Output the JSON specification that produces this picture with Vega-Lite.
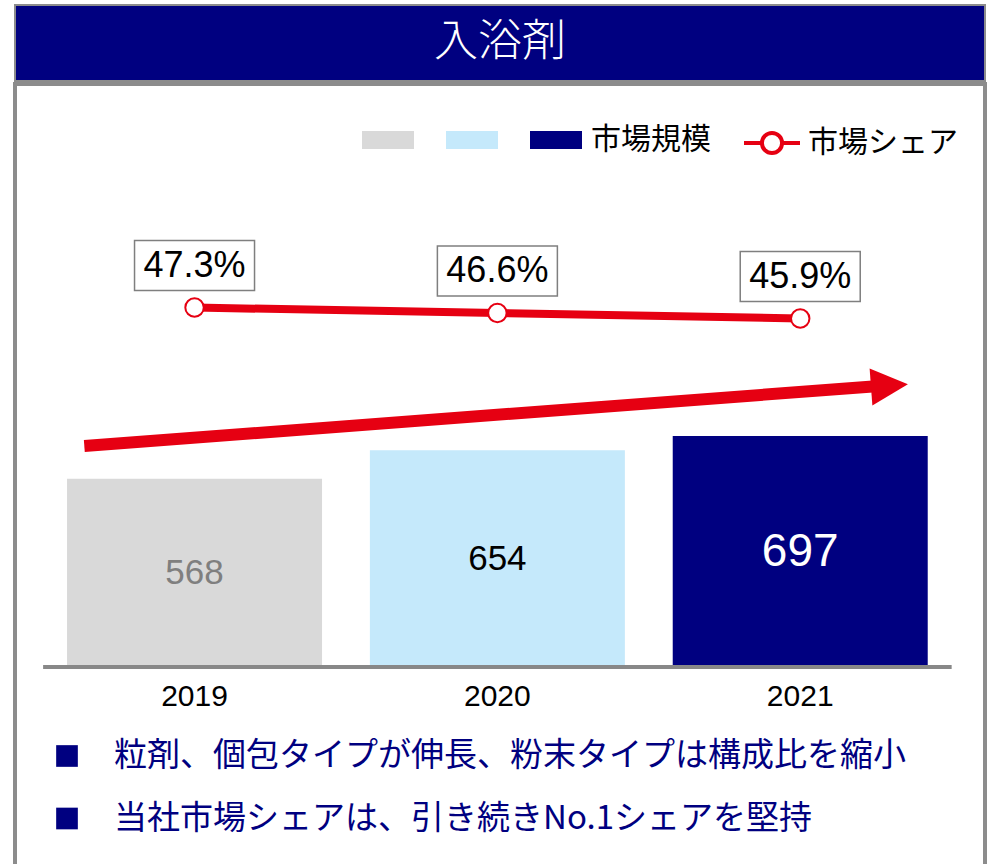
{
  "$schema": "https://vega.github.io/schema/vega-lite/v6.json",
  "background": "white",
  "padding": {"left": 13, "top": 4, "right": 0, "bottom": 0},
  "spacing": 0,
  "config": {"font": "Noto Sans CJK JP", "view": {"stroke": null}},
  "vconcat": [
    {
      "width": 970,
      "height": 76,
      "view": {"fill": "#000080", "stroke": "#8c8c8c", "strokeWidth": 2},
      "data": {"values": [{"t": "入浴剤"}]},
      "mark": {"type": "text", "font": "Noto Sans CJK JP", "fontSize": 44, "fontWeight": 300, "color": "#ffffff", "align": "center", "baseline": "middle"},
      "encoding": {"text": {"field": "t", "type": "nominal"}}
    },
    {
      "width": 970,
      "height": 790,
      "view": {"fill": "#ffffff", "stroke": "#8c8c8c", "strokeWidth": 4},
      "resolve": {"scale": {"y": "independent"}},
      "layer": [
        {
          "data": {"values": [{"year": 2019, "value": 568}, {"year": 2020, "value": 654}, {"year": 2021, "value": 697}]},
          "mark": {"type": "bar", "width": 255},
          "encoding": {
            "x": {"field": "year", "type": "quantitative", "scale": {"domain": [2018.4237, 2021.5936], "nice": false, "zero": false}, "axis": null},
            "y": {"field": "value", "type": "quantitative", "scale": {"domain": [-624.6, 1759.2], "nice": false, "zero": false}, "axis": null},
            "color": {
              "field": "year",
              "type": "nominal",
              "scale": {"domain": [2019, 2020, 2021], "range": ["#d9d9d9", "#c5e9fb", "#000080"]},
              "legend": {
                "orient": "none",
                "legendX": 346,
                "legendY": 108,
                "direction": "horizontal",
                "columns": 3,
                "title": null,
                "padding": 0,
                "symbolSize": 2704,
                "symbolType": "M-1,-0.35H1V0.35H-1Z",
                "labelFont": "Noto Sans CJK JP",
                "labelFontSize": 30,
                "labelColor": "#000000",
                "labelOffset": 8,
                "labelLimit": 300,
                "columnPadding": 22,
                "labelExpr": "datum.value == 2021 ? '市場規模' : ''"
              }
            }
          }
        },
        {
          "data": {"values": [{}]},
          "mark": {"type": "rule", "color": "#888888", "strokeWidth": 4},
          "encoding": {
            "x": {"datum": 2018.5, "type": "quantitative", "scale": {"domain": [2018.4237, 2021.5936], "nice": false, "zero": false}, "axis": null},
            "x2": {"datum": 2021.5},
            "y": {"datum": 0, "type": "quantitative", "scale": {"domain": [-624.6, 1759.2], "nice": false, "zero": false}, "axis": null}
          }
        },
        {
          "data": {"values": [{}]},
          "mark": {"type": "rule", "color": "#e60012", "strokeWidth": 12, "strokeCap": "butt"},
          "encoding": {
            "x": {"datum": 2018.6361, "type": "quantitative", "scale": {"domain": [2018.4237, 2021.5936], "nice": false, "zero": false}, "axis": null},
            "x2": {"datum": 2021.2505},
            "y": {"datum": 666.9, "type": "quantitative", "scale": {"domain": [-624.6, 1759.2], "nice": false, "zero": false}, "axis": null},
            "y2": {"datum": 847.3}
          }
        },
        {
          "data": {"values": [{}]},
          "mark": {"type": "point", "shape": "M-1,-1L1,0L-1,1Z", "size": 1369, "filled": true, "color": "#e60012", "opacity": 1, "angle": 355.7},
          "encoding": {
            "x": {"datum": 2021.2946, "type": "quantitative", "scale": {"domain": [2018.4237, 2021.5936], "nice": false, "zero": false}, "axis": null},
            "y": {"datum": 849.1, "type": "quantitative", "scale": {"domain": [-624.6, 1759.2], "nice": false, "zero": false}, "axis": null}
          }
        },
        {
          "data": {"values": [{"year": 2019, "share": 0.473}, {"year": 2020, "share": 0.466}, {"year": 2021, "share": 0.459}]},
          "mark": {"type": "line", "strokeWidth": 8},
          "encoding": {
            "x": {"field": "year", "type": "quantitative", "scale": {"domain": [2018.4237, 2021.5936], "nice": false, "zero": false}, "axis": null},
            "y": {"field": "share", "type": "quantitative", "scale": {"domain": [-0.2480, 0.7575], "nice": false, "zero": false}, "axis": null},
            "stroke": {
              "datum": "市場シェア",
              "type": "nominal",
              "scale": {"domain": ["市場シェア"], "range": ["#e60012"]},
              "legend": {
                "orient": "none",
                "legendX": 727,
                "legendY": 108,
                "direction": "horizontal",
                "title": null,
                "padding": 0,
                "symbolSize": 3136,
                "symbolType": "M-1,0H-0.36M0.36,0H1M-0.36,0A0.36,0.36 0 1 1 0.36,0A0.36,0.36 0 1 1 -0.36,0",
                "symbolStrokeWidth": 4,
                "symbolFillColor": "#ffffff",
                "labelFont": "Noto Sans CJK JP",
                "labelFontSize": 30,
                "labelColor": "#000000",
                "labelOffset": 6,
                "labelLimit": 300
              }
            }
          }
        },
        {
          "data": {"values": [{"year": 2019, "share": 0.473}, {"year": 2020, "share": 0.466}, {"year": 2021, "share": 0.459}]},
          "mark": {"type": "point", "shape": "circle", "size": 340, "filled": true, "fill": "#ffffff", "stroke": "#e60012", "strokeWidth": 2, "opacity": 1},
          "encoding": {
            "x": {"field": "year", "type": "quantitative", "scale": {"domain": [2018.4237, 2021.5936], "nice": false, "zero": false}, "axis": null},
            "y": {"field": "share", "type": "quantitative", "scale": {"domain": [-0.2480, 0.7575], "nice": false, "zero": false}, "axis": null}
          }
        },
        {
          "data": {"values": [{"year": 2019, "share": 0.473}, {"year": 2020, "share": 0.466}, {"year": 2021, "share": 0.459}]},
          "mark": {"type": "point", "shape": "M-1,-1.117H1V-0.283H-1Z", "size": 14400, "filled": true, "fill": "#ffffff", "stroke": "#7f7f7f", "strokeWidth": 1.5, "opacity": 1},
          "encoding": {
            "x": {"field": "year", "type": "quantitative", "scale": {"domain": [2018.4237, 2021.5936], "nice": false, "zero": false}, "axis": null},
            "y": {"field": "share", "type": "quantitative", "scale": {"domain": [-0.2480, 0.7575], "nice": false, "zero": false}, "axis": null}
          }
        },
        {
          "data": {"values": [{"year": 2019, "share": 0.473}, {"year": 2020, "share": 0.466}, {"year": 2021, "share": 0.459}]},
          "mark": {"type": "text", "font": "Liberation Sans", "fontSize": 36, "color": "#000000", "baseline": "middle", "align": "center", "dy": -42},
          "encoding": {
            "x": {"field": "year", "type": "quantitative", "scale": {"domain": [2018.4237, 2021.5936], "nice": false, "zero": false}, "axis": null},
            "y": {"field": "share", "type": "quantitative", "scale": {"domain": [-0.2480, 0.7575], "nice": false, "zero": false}, "axis": null},
            "text": {"field": "share", "type": "quantitative", "format": ".1%"}
          }
        },
        {
          "data": {"values": [{"year": 2019, "value": 568}, {"year": 2020, "value": 654}, {"year": 2021, "value": 697}]},
          "mark": {"type": "text", "font": "Liberation Sans", "baseline": "middle", "align": "center"},
          "encoding": {
            "x": {"field": "year", "type": "quantitative", "scale": {"domain": [2018.4237, 2021.5936], "nice": false, "zero": false}, "axis": null},
            "y": {"field": "value", "type": "quantitative", "scale": {"domain": [-1249.2, 3518.4], "nice": false, "zero": false}, "axis": null},
            "text": {"field": "value", "type": "quantitative"},
            "color": {"condition": [{"test": "datum.year == 2019", "value": "#7f7f7f"}, {"test": "datum.year == 2021", "value": "#ffffff"}], "value": "#000000"},
            "size": {"condition": {"test": "datum.year == 2021", "value": 46}, "value": 35}
          }
        },
        {
          "data": {"values": [{"year": 2019}, {"year": 2020}, {"year": 2021}]},
          "mark": {"type": "text", "font": "Liberation Sans", "fontSize": 30, "color": "#000000", "baseline": "middle", "align": "center", "dy": 30},
          "encoding": {
            "x": {"field": "year", "type": "quantitative", "scale": {"domain": [2018.4237, 2021.5936], "nice": false, "zero": false}, "axis": null},
            "y": {"datum": 0, "type": "quantitative", "scale": {"domain": [-624.6, 1759.2], "nice": false, "zero": false}, "axis": null},
            "text": {"field": "year", "type": "quantitative", "format": "d"}
          }
        },
        {
          "data": {"values": [{"row": 1}, {"row": 2}]},
          "mark": {"type": "point", "shape": "square", "size": 470, "filled": true, "color": "#000080", "opacity": 1},
          "encoding": {
            "x": {"datum": 2018.5789, "type": "quantitative", "scale": {"domain": [2018.4237, 2021.5936], "nice": false, "zero": false}, "axis": null},
            "y": {"field": "row", "type": "quantitative", "scale": {"domain": [-9.752, 2.888], "reverse": true, "nice": false, "zero": false}, "axis": null}
          }
        },
        {
          "data": {"values": [
            {"row": 1, "text": "粒剤、個包タイプが伸長、粉末タイプは構成比を縮小"},
            {"row": 2, "text": "当社市場シェアは、引き続きNo.1シェアを堅持"}
          ]},
          "mark": {"type": "text", "font": "Noto Sans CJK JP", "fontSize": 33, "color": "#000080", "align": "left", "baseline": "middle"},
          "encoding": {
            "x": {"datum": 2018.7343, "type": "quantitative", "scale": {"domain": [2018.4237, 2021.5936], "nice": false, "zero": false}, "axis": null},
            "y": {"field": "row", "type": "quantitative", "scale": {"domain": [-9.752, 2.888], "reverse": true, "nice": false, "zero": false}, "axis": null},
            "text": {"field": "text", "type": "nominal"}
          }
        }
      ]
    }
  ]
}
